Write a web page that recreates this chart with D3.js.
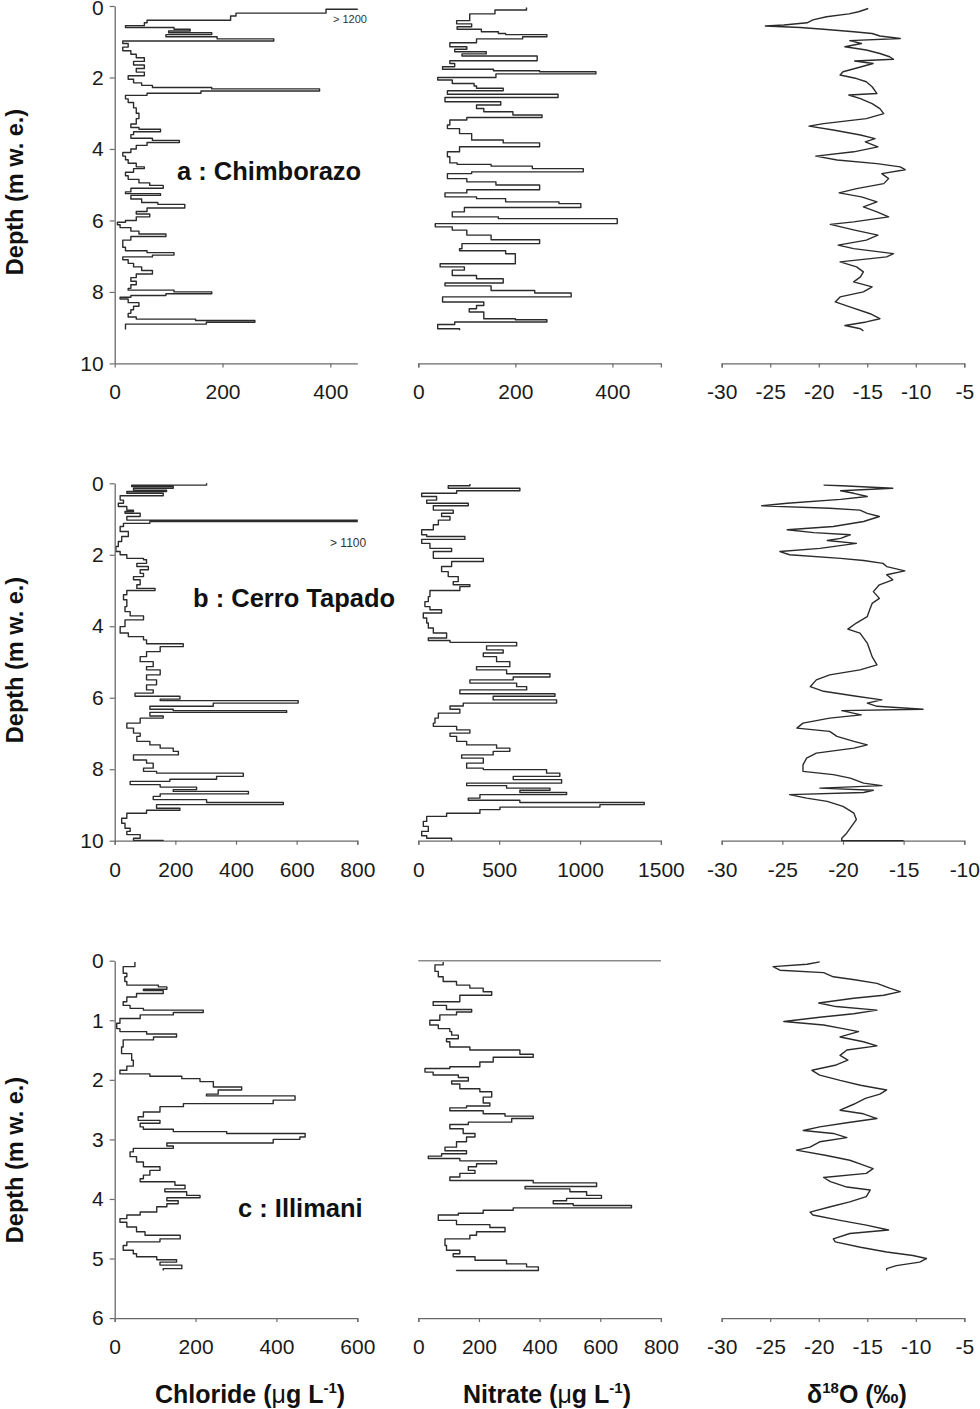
<!DOCTYPE html>
<html><head><meta charset="utf-8">
<script src="https://cdn.jsdelivr.net/npm/d3@7"></script>
<style>
body{margin:0;background:#fff;}
svg{display:block;background:#fff;}
text{font-family:Arial,"Liberation Sans",Helvetica,sans-serif;}
</style></head><body>
<svg id="chart" width="980" height="1409"></svg>
<script>
// ---------- Panel a : Chimborazo ----------
const chlA_depth = [0,0.09,0.2,0.28,0.4,0.47,0.55,0.6,0.65,0.7,0.75,0.8,0.86,0.92,0.98,1.05,1.15,1.25,1.35,1.45,1.55,1.65,1.75,1.85,1.95,2.05,2.15,2.22,2.28,2.32,2.38,2.44,2.5,2.6,2.7,2.85,3.0,3.15,3.3,3.4,3.45,3.52,3.6,3.7,3.76,3.82,3.9,4.0,4.1,4.2,4.3,4.4,4.5,4.55,4.65,4.75,4.85,4.95,5.02,5.1,5.2,5.25,5.3,5.4,5.5,5.55,5.65,5.75,5.82,5.9,6.0,6.05,6.12,6.2,6.3,6.38,6.45,6.55,6.65,6.75,6.85,6.9,6.97,7.02,7.1,7.2,7.3,7.4,7.5,7.6,7.7,7.8,7.9,7.95,8.0,8.05,8.1,8.15,8.2,8.3,8.4,8.5,8.6,8.7,8.76,8.8,8.85,8.9,9.0,9.05];
const chlA_value = [1250,392,225,215,60,55,20,110,140,100,180,95,190,295,15,25,15,30,40,55,35,55,40,55,25,35,50,70,180,380,160,60,20,25,35,40,45,40,30,45,85,35,30,70,120,60,40,30,15,20,25,40,55,35,20,25,45,65,90,30,20,85,30,50,80,130,60,40,65,40,20,5,10,30,45,95,30,15,15,20,60,110,70,15,25,35,50,70,40,30,40,30,25,110,180,95,30,10,25,45,35,30,25,40,150,260,170,20,20,20];

const nitA_depth = [0.04,0.11,0.22,0.41,0.50,0.58,0.65,0.72,0.77,0.80,0.86,0.92,1.03,1.14,1.21,1.28,1.34,1.40,1.53,1.61,1.70,1.77,1.81,1.84,1.90,2.00,2.07,2.17,2.24,2.30,2.37,2.47,2.56,2.68,2.77,2.87,2.96,3.05,3.12,3.19,3.33,3.43,3.57,3.75,3.83,3.94,4.08,4.22,4.39,4.43,4.48,4.55,4.64,4.69,4.83,4.92,5.01,5.14,5.23,5.34,5.39,5.48,5.53,5.64,5.76,5.90,5.95,6.09,6.18,6.27,6.41,6.54,6.65,6.79,6.85,6.93,7.21,7.30,7.39,7.54,7.63,7.75,7.83,7.96,8.03,8.14,8.28,8.38,8.47,8.56,8.75,8.78,8.84,8.91,9.03,9.07];
const nitA_value = [223,158,106,79,110,80,130,165,180,265,215,120,65,100,75,140,90,245,65,75,50,155,250,366,160,40,70,115,120,175,60,288,55,170,120,135,195,255,100,65,60,85,110,175,250,85,60,65,80,150,235,340,110,60,100,160,250,100,55,120,180,290,335,95,70,165,410,35,70,100,150,250,90,85,180,200,45,95,70,120,175,55,150,240,315,50,135,120,105,135,200,265,75,40,85,85];

const d18A_depth = [0.07,0.16,0.22,0.30,0.39,0.47,0.53,0.56,0.60,0.65,0.72,0.77,0.84,0.91,0.97,1.05,1.14,1.23,1.33,1.42,1.49,1.54,1.61,1.70,1.84,1.93,2.03,2.12,2.26,2.45,2.49,2.59,2.73,2.87,3.01,3.15,3.29,3.36,3.47,3.61,3.71,3.80,3.94,4.08,4.20,4.31,4.41,4.50,4.58,4.69,4.83,4.97,5.11,5.23,5.34,5.48,5.62,5.76,5.90,6.04,6.11,6.27,6.41,6.55,6.69,6.79,6.93,7.02,7.16,7.30,7.44,7.58,7.72,7.86,8.00,8.14,8.28,8.42,8.61,8.75,8.84,8.94,9.03,9.09];
const d18A_value = [-14.9,-15.9,-16.9,-19.2,-20.6,-21.2,-23.6,-25.5,-21.9,-19.5,-16.4,-14.5,-13.7,-11.6,-16.8,-15.6,-17.3,-15.1,-13.7,-12.7,-12.3,-16.3,-14.4,-15.6,-17.5,-17.8,-16.1,-15.1,-14.5,-14.0,-16.9,-15.7,-14.5,-13.7,-13.3,-15.1,-19.5,-21.0,-18.5,-15.7,-14.2,-15.2,-13.9,-16.4,-20.3,-18.1,-14.0,-11.6,-11.1,-13.5,-12.8,-13.3,-16.1,-17.9,-15.6,-14.0,-15.4,-14.0,-12.8,-16.4,-18.8,-16.3,-13.9,-15.1,-18.0,-16.4,-12.3,-13.0,-17.8,-16.1,-15.4,-15.7,-16.4,-14.5,-15.4,-17.8,-18.3,-16.8,-14.7,-13.7,-15.1,-17.3,-15.7,-15.4];

// ---------- Panel b : Cerro Tapado ----------
const chlB_depth = [0,0.05,0.09,0.14,0.19,0.23,0.28,0.35,0.47,0.56,0.65,0.75,0.79,0.84,0.93,1.03,1.07,1.12,1.21,1.35,1.49,1.63,1.77,1.91,2.00,2.10,2.14,2.24,2.33,2.42,2.52,2.61,2.70,2.84,2.94,3.00,3.12,3.26,3.45,3.59,3.71,3.82,4.01,4.19,4.29,4.38,4.49,4.57,4.71,4.85,4.99,5.13,5.22,5.36,5.50,5.64,5.78,5.87,5.96,6.04,6.08,6.15,6.24,6.32,6.36,6.41,6.51,6.57,6.71,6.85,6.99,7.08,7.22,7.32,7.41,7.50,7.60,7.74,7.83,7.97,8.06,8.11,8.20,8.28,8.34,8.43,8.50,8.57,8.62,8.69,8.76,8.85,8.93,8.99,9.09,9.15,9.23,9.37,9.51,9.65,9.74,9.83,9.93,9.99,10.0];
const chlB_value = [303,56,193,62,171,40,160,18,29,12,40,62,34,84,40,1200,116,29,18,45,23,12,4,18,40,95,105,73,111,84,95,62,84,73,133,40,29,40,34,51,95,34,18,45,95,105,226,150,105,84,127,105,150,105,138,105,127,67,215,150,605,325,116,193,567,116,160,84,40,62,84,73,116,150,193,210,62,105,127,95,138,424,336,182,51,150,270,193,441,150,127,303,556,138,215,105,40,23,34,51,40,84,62,160,160];

const nitB_depth = [0.02,0.07,0.14,0.21,0.28,0.37,0.47,0.56,0.63,0.75,0.84,0.93,1.03,1.16,1.30,1.44,1.49,1.57,1.68,1.82,1.91,2.10,2.19,2.33,2.47,2.61,2.75,2.84,2.89,3.00,3.17,3.31,3.45,3.54,3.63,3.77,3.91,4.05,4.19,4.33,4.40,4.45,4.55,4.66,4.75,4.85,4.99,5.13,5.22,5.33,5.42,5.50,5.59,5.69,5.78,5.89,5.96,6.06,6.15,6.23,6.32,6.43,6.57,6.71,6.80,6.90,6.99,7.08,7.22,7.32,7.41,7.50,7.60,7.69,7.83,7.97,8.01,8.11,8.20,8.29,8.39,8.46,8.53,8.59,8.65,8.71,8.81,8.87,8.93,8.99,9.06,9.13,9.23,9.32,9.46,9.60,9.74,9.86,9.93,10.0];
const nitB_value = [319,185,628,237,21,113,52,309,93,216,144,196,124,93,21,52,288,21,72,206,93,402,206,144,185,247,216,319,257,72,62,41,72,144,31,52,62,93,175,62,196,608,422,525,402,484,566,360,546,814,587,319,608,670,257,845,463,855,278,196,257,124,103,93,237,319,196,237,299,484,566,463,268,402,299,402,793,875,587,886,299,546,814,628,917,381,309,628,1397,1123,505,381,175,52,31,62,21,52,206,206];

const d18B_depth = [0.05,0.07,0.14,0.21,0.28,0.37,0.45,0.56,0.63,0.70,0.75,0.84,0.93,1.07,1.21,1.30,1.38,1.44,1.54,1.60,1.68,1.82,1.91,2.00,2.10,2.16,2.24,2.33,2.45,2.56,2.70,2.84,3.03,3.22,3.36,3.54,3.73,3.91,4.08,4.19,4.33,4.47,4.66,4.85,5.08,5.22,5.36,5.50,5.69,5.82,5.96,6.06,6.15,6.24,6.32,6.36,6.48,6.57,6.71,6.85,6.94,7.08,7.22,7.32,7.41,7.55,7.69,7.88,8.06,8.15,8.25,8.39,8.46,8.53,8.59,8.65,8.71,8.81,8.90,9.04,9.23,9.41,9.60,9.79,9.93,10.0,10.0];
const d18B_value = [-21.6,-20.1,-15.9,-20.2,-19.1,-18.0,-20.2,-24.6,-26.7,-21.1,-18.6,-18.0,-17.0,-18.3,-20.8,-24.6,-22.4,-19.4,-20.2,-21.3,-18.9,-21.9,-25.2,-24.4,-20.2,-18.3,-16.7,-16.4,-14.9,-16.4,-15.9,-17.0,-17.5,-17.0,-17.6,-17.8,-18.0,-18.9,-19.6,-18.6,-18.3,-18.0,-17.8,-17.6,-17.2,-18.6,-21.1,-22.2,-22.7,-21.6,-18.9,-16.8,-18.0,-17.2,-13.4,-20.1,-18.5,-21.1,-23.3,-23.8,-21.1,-20.5,-19.1,-18.0,-19.1,-22.2,-23.0,-23.3,-23.3,-20.8,-19.4,-18.3,-16.8,-21.9,-17.5,-18.3,-24.4,-23.0,-21.3,-20.0,-19.1,-18.9,-19.3,-19.7,-20.1,-20.1,-15.0];

// ---------- Panel c : Illimani ----------
const chlC_depth = [0.02,0.10,0.21,0.27,0.35,0.41,0.44,0.48,0.50,0.55,0.61,0.69,0.75,0.80,0.83,0.87,0.91,0.97,1.05,1.14,1.19,1.23,1.28,1.33,1.45,1.56,1.67,1.77,1.84,1.90,1.94,1.98,2.03,2.12,2.17,2.24,2.27,2.34,2.40,2.45,2.54,2.62,2.68,2.73,2.79,2.83,2.87,2.90,2.96,3.00,3.06,3.11,3.15,3.21,3.29,3.38,3.46,3.52,3.60,3.66,3.71,3.77,3.83,3.88,3.94,3.98,4.03,4.08,4.13,4.22,4.27,4.33,4.39,4.47,4.55,4.61,4.67,4.72,4.78,4.86,4.92,4.97,5.02,5.06,5.11,5.17,5.20];
const chlC_value = [50,21,30,25,30,108,129,71,120,54,30,21,38,71,219,145,63,13,5,13,79,153,96,21,17,42,46,30,13,87,166,211,244,314,256,227,446,392,170,112,71,58,112,63,71,145,277,471,458,392,129,145,46,38,54,71,112,87,71,63,149,174,124,178,211,129,157,129,104,63,30,13,30,54,75,162,112,30,21,46,54,104,153,112,166,120,120];

const nitC_depth = [0.02,0.07,0.18,0.27,0.35,0.41,0.46,0.52,0.58,0.69,0.75,0.82,0.86,0.91,1.00,1.08,1.14,1.19,1.25,1.31,1.36,1.45,1.50,1.57,1.62,1.70,1.78,1.81,1.87,1.92,1.96,2.02,2.07,2.15,2.20,2.29,2.39,2.44,2.47,2.52,2.57,2.61,2.65,2.71,2.75,2.82,2.90,2.96,3.04,3.13,3.19,3.24,3.28,3.32,3.36,3.41,3.46,3.52,3.57,3.63,3.69,3.73,3.79,3.83,3.88,3.94,3.99,4.03,4.08,4.11,4.15,4.19,4.24,4.27,4.36,4.43,4.48,4.55,4.61,4.67,4.78,4.86,4.92,4.97,5.03,5.09,5.14,5.20,5.21];
const nitC_value = [82,55,66,82,126,170,214,242,137,49,93,176,126,71,38,66,104,110,132,93,104,170,335,379,247,203,104,22,49,132,165,110,137,203,242,214,236,159,104,214,286,379,308,165,104,148,187,159,126,88,159,77,33,137,258,192,165,187,137,104,379,588,352,500,555,604,489,445,511,703,313,214,132,66,126,236,286,192,170,88,93,137,115,187,291,357,396,126,126];

const d18C_depth = [0.02,0.06,0.10,0.16,0.20,0.27,0.32,0.38,0.46,0.52,0.58,0.63,0.71,0.77,0.83,0.89,0.95,1.02,1.08,1.14,1.19,1.28,1.36,1.43,1.50,1.59,1.67,1.75,1.84,1.92,2.01,2.09,2.17,2.24,2.31,2.41,2.51,2.57,2.65,2.72,2.79,2.85,2.90,2.97,3.04,3.13,3.18,3.27,3.35,3.42,3.49,3.57,3.64,3.71,3.80,3.85,3.96,4.05,4.13,4.22,4.27,4.36,4.44,4.52,4.58,4.67,4.72,4.81,4.89,4.95,5.00,5.06,5.12,5.17,5.20];
const d18C_value = [-19.9,-21.2,-24.7,-24.0,-19.5,-18.5,-16.3,-14.0,-12.7,-11.6,-13.3,-16.4,-20.0,-18.2,-14.0,-16.4,-19.9,-23.6,-19.5,-17.5,-15.9,-17.8,-15.4,-14.0,-17.1,-17.8,-17.0,-18.2,-20.7,-19.9,-17.8,-15.7,-13.0,-13.7,-15.2,-16.4,-17.8,-15.4,-14.0,-17.1,-19.9,-21.6,-18.5,-17.1,-19.9,-20.9,-22.3,-19.2,-16.8,-15.6,-14.4,-15.1,-19.5,-18.8,-17.1,-14.7,-15.1,-16.8,-18.8,-20.9,-20.6,-17.8,-15.1,-12.8,-16.8,-18.5,-18.3,-15.7,-13.0,-10.3,-8.9,-9.6,-12.0,-13.0,-13.0];

// ---------- Axes ----------
const depthTicksAB = [0,2,4,6,8,10];
const depthTicksC = [0,1,2,3,4,5,6];
const chlTicksA = [0,200,400], nitTicksA = [0,200,400], d18TicksA = [-30,-25,-20,-15,-10,-5];
const chlTicksB = [0,200,400,600,800], nitTicksB = [0,500,1000,1500], d18TicksB = [-30,-25,-20,-15,-10];
const chlTicksC = [0,200,400,600], nitTicksC = [0,200,400,600,800], d18TicksC = [-30,-25,-20,-15,-10,-5];
const siteLabels = ["a : Chimborazo", "b : Cerro Tapado", "c : Illimani"];

// ---------- Layout ----------
const colX = [114.7, 418.3, 721.7];
const panelW = 242.6;
const rowY = [6, 483.3, 960.7];
const panelH = 357.4;

const rows = [
  {depthMax:10, dTicks:depthTicksAB, panels:[
    {d:chlA_depth, v:chlA_value, dom:[0,450], ticks:chlTicksA, curve:d3.curveStepBefore, outer:0},
    {d:nitA_depth, v:nitA_value, dom:[0,500], ticks:nitTicksA, curve:d3.curveStepBefore, outer:4},
    {d:d18A_depth, v:d18A_value, dom:[-30,-5], ticks:d18TicksA, curve:d3.curveLinear, outer:4}]},
  {depthMax:10, dTicks:depthTicksAB, panels:[
    {d:chlB_depth, v:chlB_value, dom:[0,800], ticks:chlTicksB, curve:d3.curveStepBefore, outer:4},
    {d:nitB_depth, v:nitB_value, dom:[0,1500], ticks:nitTicksB, curve:d3.curveStepBefore, outer:4},
    {d:d18B_depth, v:d18B_value, dom:[-30,-10], ticks:d18TicksB, curve:d3.curveLinear, outer:4}]},
  {depthMax:6, dTicks:depthTicksC, panels:[
    {d:chlC_depth, v:chlC_value, dom:[0,600], ticks:chlTicksC, curve:d3.curveStepBefore, outer:4},
    {d:nitC_depth, v:nitC_value, dom:[0,800], ticks:nitTicksC, curve:d3.curveStepBefore, outer:4, topLine:true},
    {d:d18C_depth, v:d18C_value, dom:[-30,-5], ticks:d18TicksC, curve:d3.curveLinear, outer:4}]}
];

const svg = d3.select("#chart");
const axisColor = "#6a6a6a";
const lineColor = "#2b2b2b";
const fmt = d => String(d);

rows.forEach((row, ri) => {
  const y = d3.scaleLinear().domain([0,row.depthMax]).range([rowY[ri], rowY[ri]+panelH]);
  row.panels.forEach((p, ci) => {
    const x = d3.scaleLinear().domain(p.dom).range([colX[ci], colX[ci]+panelW]);
    const clipId = `clip-${ri}-${ci}`;
    svg.append("clipPath").attr("id", clipId).append("rect")
      .attr("x", colX[ci]).attr("y", rowY[ri]-2).attr("width", panelW+0.5).attr("height", panelH+3);

    // x axis
    const gx = svg.append("g").attr("transform", `translate(0,${rowY[ri]+panelH})`)
      .call(d3.axisBottom(x).tickValues(p.ticks).tickSize(4).tickSizeOuter(p.outer).tickPadding(17).tickFormat(fmt));
    gx.select(".domain").attr("stroke", axisColor).attr("stroke-width", 1.3);
    gx.selectAll(".tick line").attr("stroke", axisColor).attr("stroke-width", 1.2);
    gx.selectAll(".tick text").attr("font-size", 21).attr("fill", "#1a1a1a")
      .attr("font-family", "Arial, 'Liberation Sans', sans-serif");

    if (p.topLine) {
      svg.append("line").attr("x1", x(p.dom[0])).attr("x2", x(p.dom[1]))
        .attr("y1", y(0)).attr("y2", y(0)).attr("stroke", "#8a8a8a").attr("stroke-width", 1.4);
    }

    const pts = p.d.map((dd, i) => [dd, p.v[i]]);
    const line = d3.line().x(q => x(q[1])).y(q => y(q[0])).curve(p.curve);
    svg.append("path").datum(pts).attr("d", line)
      .attr("clip-path", `url(#${clipId})`)
      .attr("fill", "none").attr("stroke", lineColor).attr("stroke-width", 1.4)
      .attr("stroke-linejoin", "round");
  });

  // y axis on first column
  const gy = svg.append("g").attr("transform", `translate(${colX[0]},0)`)
    .call(d3.axisLeft(y).tickValues(row.dTicks).tickSize(5).tickSizeOuter(0).tickPadding(6).tickFormat(fmt));
  gy.select(".domain").attr("stroke", axisColor).attr("stroke-width", 1.3);
  gy.selectAll(".tick line").attr("stroke", axisColor).attr("stroke-width", 1.2);
  gy.selectAll(".tick text").attr("font-size", 21).attr("fill", "#1a1a1a")
    .attr("font-family", "Arial, 'Liberation Sans', sans-serif");
  if (ri === 0) gy.selectAll(".tick text").filter(d => d === 0).attr("dy", "0.42em");

  // Depth title
  const cy = [192, 660, 1160][ri];
  svg.append("text").attr("transform", `translate(22.5,${cy}) rotate(-90)`)
    .attr("text-anchor", "middle").attr("font-size", 23.5).attr("font-weight", "bold")
    .attr("fill", "#111").text("Depth (m w. e.)");
});

// site labels
const labelPos = [[177,180],[193,607],[238,1217]];
siteLabels.forEach((t,i) => {
  svg.append("text").attr("x", labelPos[i][0]).attr("y", labelPos[i][1])
    .attr("font-size", 25.5).attr("font-weight", "bold").attr("fill", "#111").text(t);
});

// off-scale annotations
svg.append("text").attr("x", 333).attr("y", 23).attr("font-size", 11).attr("fill", "#333").text("> 1200");
svg.append("text").attr("x", 330).attr("y", 547).attr("font-size", 12).attr("fill", "#333").text("> 1100");

// bottom axis titles
function unitTitle(cx, name) {
  const t = svg.append("text").attr("x", cx).attr("y", 1403).attr("text-anchor", "middle")
    .attr("font-size", 25).attr("font-weight", "bold").attr("fill", "#111");
  t.append("tspan").text(name + " (");
  t.append("tspan").attr("font-weight", "normal").text("\u03BC");
  t.append("tspan").text("g L");
  t.append("tspan").attr("font-size", 15).attr("dy", -10).text("-1");
  t.append("tspan").attr("dy", 10).text(")");
}
unitTitle(250, "Chloride");
unitTitle(547, "Nitrate");
{
  const t = svg.append("text").attr("x", 857).attr("y", 1403).attr("text-anchor", "middle")
    .attr("font-size", 25).attr("font-weight", "bold").attr("fill", "#111");
  t.append("tspan").text("\u03B4");
  t.append("tspan").attr("font-size", 15).attr("dy", -10).text("18");
  t.append("tspan").attr("dy", 10).text("O (\u2030)");
}
</script>
</body></html>
